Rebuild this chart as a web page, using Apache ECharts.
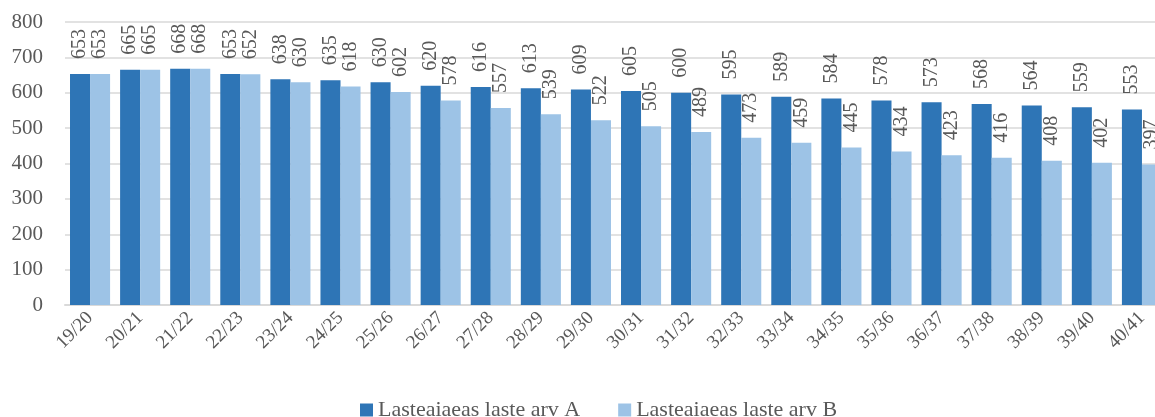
<!DOCTYPE html>
<html>
<head>
<meta charset="utf-8">
<script src="https://cdn.jsdelivr.net/npm/echarts@6/dist/echarts.min.js"></script>
<style>html,body{margin:0;padding:0;background:#fff;overflow:hidden}#c{width:1170px;height:417px}</style>
</head>
<body>
<div id="c"></div>
<script>
const categories = ['19/20','20/21','21/22','22/23','23/24','24/25','25/26','26/27','27/28','28/29','29/30','30/31','31/32','32/33','33/34','34/35','35/36','36/37','37/38','38/39','39/40','40/41'];
const seriesA = [653,665,668,653,638,635,630,620,616,613,609,605,600,595,589,584,578,573,568,564,559,553];
const seriesB = [653,665,668,652,630,618,602,578,557,539,522,505,489,473,459,445,434,423,416,408,402,397];
const nameA = 'Lasteaiaeas laste arv A';
const nameB = 'Lasteaiaeas laste arv B';
const FONT = 'Liberation Serif';
const TXT = '#595959';
const lbl = {show:true, position:'top', rotate:90, align:'left', verticalAlign:'middle', distance:15, color:TXT, fontFamily:FONT, fontSize:20};
const chart = echarts.init(document.getElementById('c'));
chart.setOption({
  animation:false,
  grid:{left:65, width:1102, top:22, height:283, containLabel:false},
  legend:{data:[nameA,nameB], left:355, top:394, itemWidth:13, itemHeight:13, itemGap:38, icon:'rect',
    textStyle:{color:TXT, fontFamily:FONT, fontSize:22}},
  xAxis:{type:'category', data:categories,
    axisLine:{lineStyle:{color:'#d9d9d9', width:2}}, axisTick:{show:false},
    axisLabel:{rotate:45, color:TXT, fontFamily:FONT, fontSize:19, margin:10, interval:0}},
  yAxis:{type:'value', min:0, max:800, interval:100,
    axisLine:{show:false}, axisTick:{show:false},
    splitLine:{lineStyle:{color:'#d9d9d9', width:1.5}},
    axisLabel:{color:TXT, fontFamily:FONT, fontSize:21, margin:22}},
  series:[
    {name:nameA, type:'bar', data:seriesA, barGap:'0%', barCategoryGap:'20%', itemStyle:{color:'#2E75B6'}, label:lbl},
    {name:nameB, type:'bar', data:seriesB, itemStyle:{color:'#9DC3E6'}, label:lbl}
  ]
});
</script>
</body>
</html>
